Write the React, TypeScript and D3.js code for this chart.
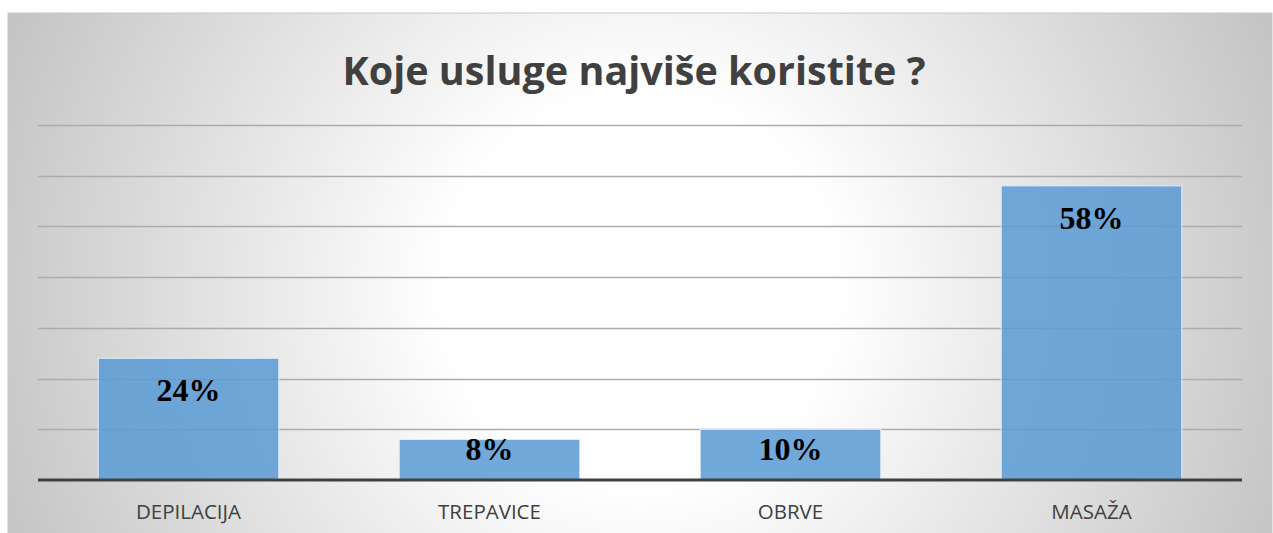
import React, { useEffect, useRef } from "react";
import * as d3 from "d3";

const categories = ["DEPILACIJA", "TREPAVICE", "OBRVE", "MASAŽA"];
const values = [0.24, 0.08, 0.1, 0.58];
const gridTicks = [0, 0.1, 0.2, 0.3, 0.4, 0.5, 0.6, 0.7];
const title = "Koje usluge najviše koristite ?";

const App = () => {
    const ref = useRef<SVGSVGElement>(null);

    useEffect(() => {
        const svg = d3.select(ref.current);
        svg.selectAll("*").remove();

        const width = 1273;
        const height = 533;
        const plot = { left: 38, right: 1242, top: 125, bottom: 480 };

        // background gradient
        const defs = svg.append("defs");
        const grad = defs
            .append("radialGradient")
            .attr("id", "bg")
            .attr("gradientUnits", "userSpaceOnUse")
            .attr("cx", 640)
            .attr("cy", 290)
            .attr("r", 700);
        grad.append("stop").attr("offset", 0).attr("stop-color", "#ffffff");
        grad.append("stop").attr("offset", 0.28).attr("stop-color", "#ffffff");
        grad.append("stop").attr("offset", 1).attr("stop-color", "#c2c2c2");

        svg.append("rect")
            .attr("width", width)
            .attr("height", height)
            .attr("fill", "#ffffff");
        svg.append("rect")
            .attr("x", 8)
            .attr("y", 13)
            .attr("width", 1264)
            .attr("height", 530)
            .attr("fill", "url(#bg)")
            .attr("stroke", "#c8c8c8")
            .attr("stroke-width", 1);

        const x = d3
            .scaleBand()
            .domain(categories)
            .range([plot.left, plot.right])
            .paddingInner(0.4)
            .paddingOuter(0.2);

        const y = d3
            .scaleLinear()
            .domain([0, 0.7])
            .range([plot.bottom, plot.top]);

        // gridlines
        svg.append("g")
            .selectAll("line")
            .data(gridTicks.slice(1))
            .join("line")
            .attr("x1", plot.left)
            .attr("x2", plot.right)
            .attr("y1", (d) => Math.round(y(d)) + 0.5)
            .attr("y2", (d) => Math.round(y(d)) + 0.5)
            .attr("stroke", "#acacac")
            .attr("stroke-width", 1.3);

        // bars
        svg.append("g")
            .selectAll("rect")
            .data(values)
            .join("rect")
            .attr("x", (d, i) => x(categories[i]))
            .attr("y", (d) => y(d))
            .attr("width", x.bandwidth())
            .attr("height", (d) => y(0) - y(d))
            .attr("fill", "#5b9bd5")
            .attr("fill-opacity", 0.86)
            .attr("stroke", "#e4eef8")
            .attr("stroke-width", 1);

        // baseline
        svg.append("line")
            .attr("x1", plot.left)
            .attr("x2", plot.right)
            .attr("y1", y(0))
            .attr("y2", y(0))
            .attr("stroke", "#404040")
            .attr("stroke-width", 3);

        // value labels
        svg.append("g")
            .selectAll("text")
            .data(values)
            .join("text")
            .attr("x", (d, i) => x(categories[i]) + x.bandwidth() / 2)
            .attr("y", (d) => Math.min(y(d) + 43, y(0) - 20))
            .attr("text-anchor", "middle")
            .attr("font-family", "'Times New Roman', 'Liberation Serif', serif")
            .attr("font-weight", "bold")
            .attr("font-size", 32)
            .attr("fill", "#000000")
            .text((d) => `${Math.round(d * 100)}%`);

        // category labels
        svg.append("g")
            .selectAll("text")
            .data(categories)
            .join("text")
            .attr("x", (d) => x(d) + x.bandwidth() / 2)
            .attr("y", 519)
            .attr("text-anchor", "middle")
            .attr("font-family", "'Open Sans', sans-serif")
            .attr("font-size", 20.5)
            .attr("fill", "#404040")
            .text((d) => d);

        // title
        svg.append("text")
            .attr("x", 634)
            .attr("y", 85)
            .attr("text-anchor", "middle")
            .attr("font-family", "'Open Sans', sans-serif")
            .attr("font-weight", "bold")
            .attr("font-size", 40)
            .attr("fill", "#404040")
            .attr("textLength", 583)
            .attr("lengthAdjust", "spacingAndGlyphs")
            .text(title);
    }, []);

    return (
        <svg
            ref={ref}
            width={1273}
            height={533}
            style={{ position: "absolute", left: 0, top: 0 }}
        ></svg>
    );
};

export default App;
